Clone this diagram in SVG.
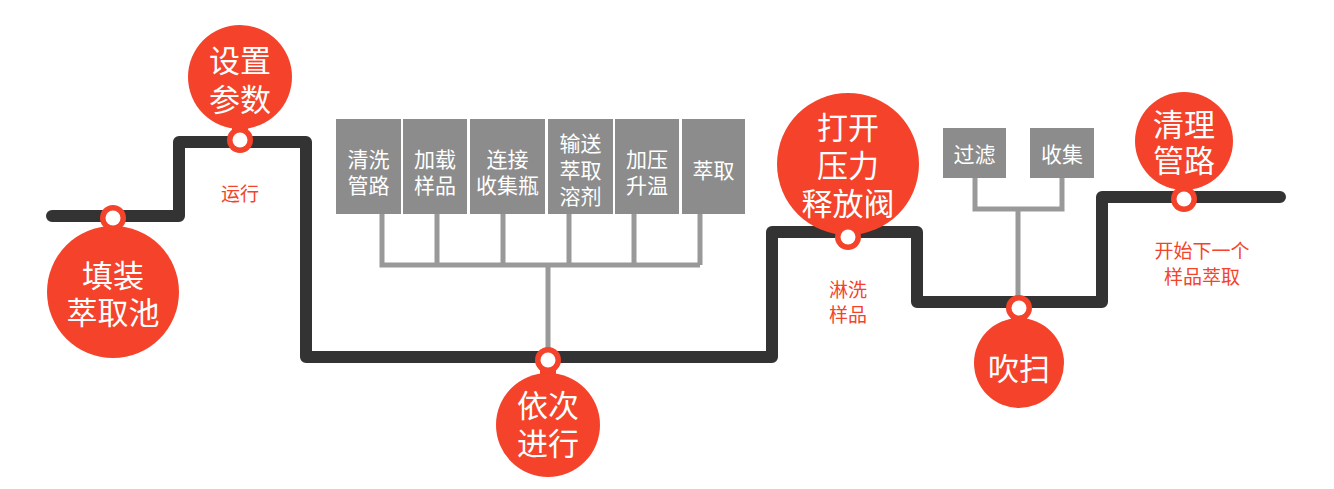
<svg xmlns="http://www.w3.org/2000/svg" width="1334" height="489" viewBox="0 0 1334 489">
<style>
.track{fill:none;stroke:#333333;stroke-width:12;stroke-linejoin:round;stroke-linecap:round}
.conn{fill:none;stroke:#999999;stroke-width:5;stroke-linejoin:miter}
.box{fill:#8c8c8c}
.red{fill:#f4432a}
.hole{fill:#ffffff}
.big{font-family:"Noto Sans CJK SC","Noto Sans",sans-serif;font-size:31px;fill:#ffffff;text-anchor:middle;dominant-baseline:central}
.bt{font-family:"Noto Sans CJK SC","Noto Sans",sans-serif;font-size:21px;fill:#ffffff;text-anchor:middle;dominant-baseline:central}
.note{font-family:"Noto Sans CJK SC","Noto Sans",sans-serif;font-size:19px;fill:#f4432a;text-anchor:middle;dominant-baseline:central}
</style>
<rect width="1334" height="489" fill="#ffffff"/>
<g id="connectors">
<path class="track" d="M52 216 H179 V142 H306 V357 H772 V232 H917 V302 H1102 V197 H1280"/>
<path class="conn" d="M382 214 V265 H700 M437 214 V265 M503 214 V265 M569 214 V265 M634 214 V265 M700 214 V265 M548 265 V357"/>
<path class="conn" d="M975 178 V209 H1062 V178 M1018 209 V302"/>
</g>
<g id="n-tianzhuang">
<rect class="red" x="105" y="216" width="16" height="20"/>
<circle class="red" cx="113" cy="292" r="66"/>
<circle class="red" cx="113" cy="218" r="13"/>
<circle class="hole" cx="113" cy="218" r="7.5"/>
<text class="big"><tspan x="113" y="273">填装</tspan><tspan x="113" y="310">萃取池</tspan></text>
</g>
<g id="n-shezhi">
<rect class="red" x="232" y="120" width="16" height="20"/>
<circle class="red" cx="240" cy="77" r="52"/>
<circle class="red" cx="240" cy="140" r="13"/>
<circle class="hole" cx="240" cy="140" r="7.5"/>
<text class="big"><tspan x="240" y="58">设置</tspan><tspan x="240" y="97">参数</tspan></text>
<text class="note" x="240" y="192">运行</text>
</g>
<g id="n-yici">
<rect class="red" x="540" y="358" width="16" height="20"/>
<circle class="red" cx="548" cy="425" r="52"/>
<circle class="red" cx="548" cy="360" r="13"/>
<circle class="hole" cx="548" cy="360" r="7.5"/>
<text class="big"><tspan x="548" y="403">依次</tspan><tspan x="548" y="441">进行</tspan></text>
</g>
<g id="n-dakai">
<rect class="red" x="840" y="215" width="16" height="20"/>
<circle class="red" cx="848" cy="164" r="71"/>
<circle class="red" cx="848" cy="237" r="13"/>
<circle class="hole" cx="848" cy="237" r="7.5"/>
<text class="big"><tspan x="848" y="125">打开</tspan><tspan x="848" y="163">压力</tspan><tspan x="848" y="201">释放阀</tspan></text>
<text class="note"><tspan x="848" y="288">淋洗</tspan><tspan x="848" y="313">样品</tspan></text>
</g>
<g id="n-chuisao">
<rect class="red" x="1011" y="305" width="16" height="16"/>
<circle class="red" cx="1019" cy="363" r="45"/>
<circle class="red" cx="1019" cy="308" r="13"/>
<circle class="hole" cx="1019" cy="308" r="7.5"/>
<text class="big" x="1019" y="366">吹扫</text>
</g>
<g id="n-qingli">
<rect class="red" x="1176" y="180" width="16" height="18"/>
<circle class="red" cx="1184" cy="141" r="49"/>
<circle class="red" cx="1184" cy="199" r="13"/>
<circle class="hole" cx="1184" cy="199" r="7.5"/>
<text class="big"><tspan x="1184" y="122">清理</tspan><tspan x="1184" y="158">管路</tspan></text>
<text class="note"><tspan x="1202" y="249">开始下一个</tspan><tspan x="1202" y="275">样品萃取</tspan></text>
</g>
<g id="b-qingxi"><rect class="box" x="336" y="119" width="65" height="95"/><text class="bt"><tspan x="368.5" y="158">清洗</tspan><tspan x="368.5" y="184">管路</tspan></text></g>
<g id="b-jiazai"><rect class="box" x="403" y="119" width="64" height="95"/><text class="bt"><tspan x="435" y="158">加载</tspan><tspan x="435" y="184">样品</tspan></text></g>
<g id="b-lianjie"><rect class="box" x="470" y="119" width="75" height="95"/><text class="bt"><tspan x="507.5" y="158">连接</tspan><tspan x="507.5" y="184">收集瓶</tspan></text></g>
<g id="b-shusong"><rect class="box" x="548" y="119" width="65" height="95"/><text class="bt"><tspan x="580.5" y="142">输送</tspan><tspan x="580.5" y="169">萃取</tspan><tspan x="580.5" y="195">溶剂</tspan></text></g>
<g id="b-jiaya"><rect class="box" x="615" y="119" width="64" height="95"/><text class="bt"><tspan x="647" y="158">加压</tspan><tspan x="647" y="184">升温</tspan></text></g>
<g id="b-cuiqu"><rect class="box" x="682" y="119" width="63" height="95"/><text class="bt" x="713.5" y="169">萃取</text></g>
<g id="b-guolv"><rect class="box" x="943" y="128" width="63" height="50"/><text class="bt" x="974.5" y="153">过滤</text></g>
<g id="b-shouji"><rect class="box" x="1030" y="128" width="64" height="50"/><text class="bt" x="1062" y="153">收集</text></g>
</svg>
